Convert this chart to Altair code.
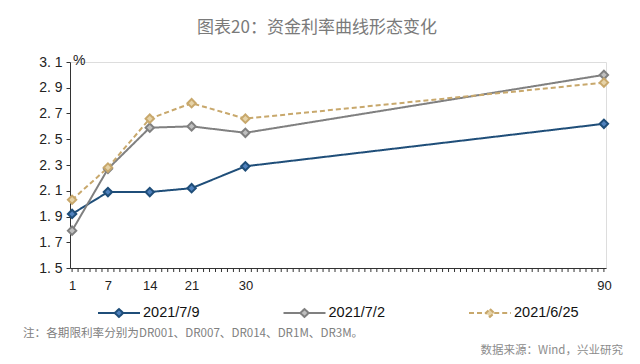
import altair as alt
import pandas as pd

days = [1, 7, 14, 21, 30, 90]
series_names = ["2021/7/9", "2021/7/2", "2021/6/25"]
s_0709 = [1.92, 2.09, 2.09, 2.12, 2.29, 2.62]
s_0702 = [1.79, 2.27, 2.59, 2.60, 2.55, 3.00]
s_0625 = [2.03, 2.28, 2.66, 2.78, 2.66, 2.94]
tick_labels = [1, 7, 14, 21, 30, 90]
y_ticks = [1.5, 1.7, 1.9, 2.1, 2.3, 2.5, 2.7, 2.9, 3.1]
minor_ticks = list(range(1, 91))

line_colors = ["#1f4e79", "#808080", "#c8a86c"]
fill_colors = ["#4f81bd", "#bfbfbf", "#e6d3a8"]
dashes = [[1, 0], [1, 0], [5, 3]]

rows = []
for name, vals in zip(series_names, [s_0709, s_0702, s_0625]):
    for d, v in zip(days, vals):
        rows.append({"day": d, "rate": v, "series": name})
df = pd.DataFrame(rows)
leg_df = pd.DataFrame({"series": series_names})
tick_df = pd.DataFrame({"day": minor_ticks})

xscale = alt.Scale(domain=[0.65, 90.35], nice=False, zero=False)
yscale = alt.Scale(domain=[1.5, 3.1], nice=False, zero=False)
color_scale = alt.Scale(domain=series_names, range=line_colors)
fill_scale = alt.Scale(domain=series_names, range=fill_colors)
dash_scale = alt.Scale(domain=series_names, range=dashes)
leg_scale = alt.Scale(type="point", domain=series_names, range=[49, 420], padding=0)

x_axis = alt.Axis(values=tick_labels, title=None, grid=False, ticks=False,
                  domainColor="#333333", labelFontSize=13, labelColor="#222222",
                  labelFont="Liberation Sans", labelPadding=11,
                  labelOverlap=False, labelFlush=False)
y_axis = alt.Axis(values=y_ticks, title=None, grid=False, labelOverlap=False,
                  labelExpr="replace(format(datum.value, '.1f'), '.', '. ')",
                  tickSize=4, tickColor="#333333", domainColor="#333333",
                  labelFontSize=14, labelColor="#222222", labelFont="Liberation Sans",
                  labelPadding=4)

lines = alt.Chart(df).mark_line(strokeWidth=2).encode(
    x=alt.X("day:Q", scale=xscale, axis=x_axis),
    y=alt.Y("rate:Q", scale=yscale, axis=y_axis),
    color=alt.Color("series:N", scale=color_scale, legend=None),
    strokeDash=alt.StrokeDash("series:N", scale=dash_scale, legend=None),
)

points = alt.Chart(df).mark_point(shape="diamond", size=70, filled=False, strokeWidth=2,
                                  fillOpacity=1).encode(
    x=alt.X("day:Q", scale=xscale, axis=x_axis),
    y=alt.Y("rate:Q", scale=yscale, axis=y_axis),
    stroke=alt.Stroke("series:N", scale=color_scale, legend=None),
    fill=alt.Fill("series:N", scale=fill_scale, legend=None),
)

minor = alt.Chart(tick_df).mark_rule(color="#333333", strokeWidth=1).encode(
    x=alt.X("day:Q", scale=xscale, axis=x_axis),
    y=alt.value(206), y2=alt.value(210),
)

legend_path = "M-1,0L-0.2,0M0.2,0L1,0M0,-0.19L0.2,0L0,0.19L-0.2,0Z"
leg_sym = alt.Chart(leg_df).mark_point(shape=legend_path, size=1764, strokeWidth=2,
                                       filled=False, fillOpacity=1).encode(
    x=alt.X("series:N", scale=leg_scale, axis=None),
    y=alt.value(251),
    stroke=alt.Stroke("series:N", scale=color_scale, legend=None),
    fill=alt.Fill("series:N", scale=fill_scale, legend=None),
    strokeDash=alt.StrokeDash("series:N", scale=dash_scale, legend=None),
)
leg_txt = alt.Chart(leg_df).mark_text(align="left", baseline="middle", dx=24, fontSize=14.5,
                                      font="Liberation Sans", color="#111111").encode(
    x=alt.X("series:N", scale=leg_scale, axis=None),
    y=alt.value(251),
    text="series:N",
)

unit = alt.Chart().mark_text(text="%", fontSize=14, font="Liberation Sans", color="#222222",
                             align="left", baseline="middle").encode(
    x=alt.value(3), y=alt.value(-1))

note = alt.Chart().mark_text(text="注：各期限利率分别为DR001、DR007、DR014、DR1M、DR3M。",
                             fontSize=11.6, font="Noto Sans CJK SC", color="#808080",
                             align="left", baseline="middle").encode(
    x=alt.value(-47), y=alt.value(272))

source = alt.Chart().mark_text(text="数据来源：Wind，兴业研究",
                               fontSize=11.5, font="Noto Sans CJK SC", color="#8c8c8c",
                               align="right", baseline="middle").encode(
    x=alt.value(553), y=alt.value(289))

main = alt.layer(minor, lines, points)
legend = alt.layer(leg_sym, leg_txt)

chart = alt.layer(main, legend, unit, note, source).resolve_scale(
    x="independent"
).properties(
    width=536, height=206,
    title=alt.TitleParams("图表20：资金利率曲线形态变化", font="Noto Sans CJK SC", fontSize=17,
                          fontWeight="normal", color="#7a7a7a", anchor="middle", dx=-21, offset=17),
    autosize=alt.AutoSizeParams(type="none"),
    padding={"left": 62, "top": 54, "right": 26, "bottom": 88},
).configure_view(stroke=None).configure(background="white")

chart.save("out.html", embed_options={"renderer": "svg", "actions": False})
